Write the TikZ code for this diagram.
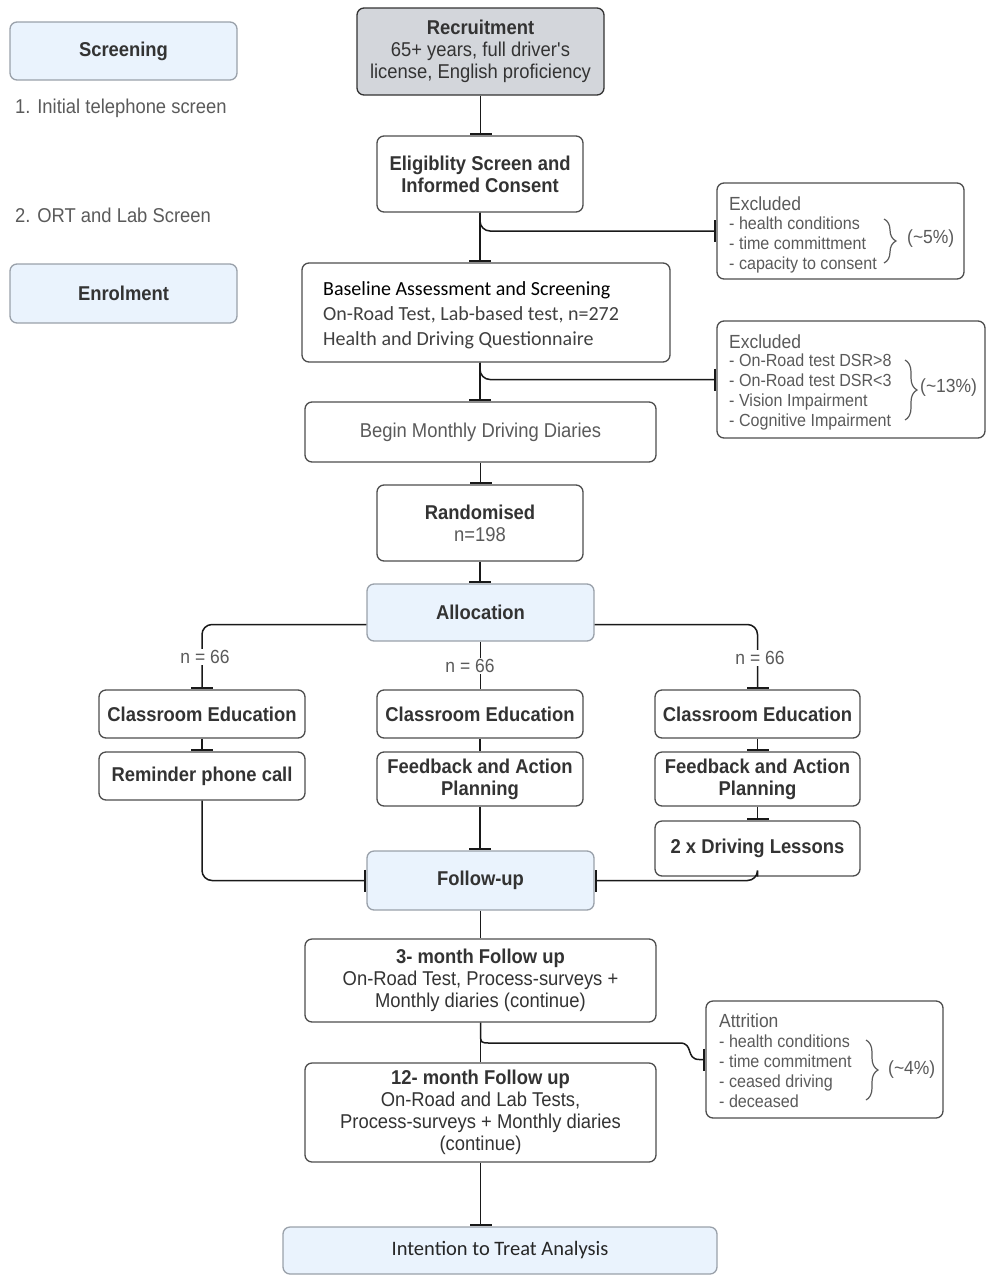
\documentclass[tikz,border=0pt]{standalone}
\usepackage{fontspec}
\setmainfont[FakeStretch=0.92]{Liberation Sans}
\newfontfamily\calfont{Carlito}
\usetikzlibrary{arrows.meta,decorations.pathreplacing,calc}
\definecolor{txt}{HTML}{333333}
\definecolor{gtxt}{HTML}{5A5A5A}
\definecolor{bord}{HTML}{4D4D4D}
\definecolor{bluefill}{HTML}{EAF3FD}
\definecolor{blueborder}{HTML}{9AA1AA}
\definecolor{grayfill}{HTML}{D3D6DB}
\tikzset{
  box/.style={draw=bord, line width=1.3pt, rounded corners=7pt, fill=white, align=center, inner sep=0pt, text=txt},
  bluebox/.style={box, draw=blueborder, fill=bluefill},
  conn/.style={draw=black!90, line width=1.5pt},
  tee/.style={conn, -{Bar[width=22pt,line width=2.4pt]}},
  bf/.style={font=\fontsize{20}{22}\selectfont\bfseries},
  rg/.style={font=\fontsize{20}{22}\selectfont},
  lst/.style={font=\fontsize{17.5}{20}\selectfont, text=gtxt, align=left, inner sep=0pt},
  lbl/.style={font=\fontsize{19}{22}\selectfont, text=gtxt, inner sep=1pt},
  brc/.style={draw=gtxt, line width=1.2pt, decorate, decoration={brace, amplitude=12pt}},
}
\begin{document}
\begin{tikzpicture}[x=1pt,y=-1pt]
\useasboundingbox (0,0) rectangle (989,1280);
% left column
\node[bluebox, bf, minimum width=227pt, minimum height=58pt] (scr) at (123.5,51) {Screening};
\node[lbl, anchor=west, font=\fontsize{20}{22}\selectfont] (s1) at (14,108) {1. Initial telephone screen};
\node[lbl, anchor=west, font=\fontsize{20}{22}\selectfont] (s2) at (14,215) {2. ORT and Lab Screen};
\node[bluebox, bf, minimum width=227pt, minimum height=59pt] (enr) at (123.5,293.5) {Enrolment};
% main column
\node[box, fill=grayfill, draw=black!80, rg, minimum width=247pt, minimum height=87pt] (rec) at (480.5,51.5)
  {\textbf{Recruitment}\\65+ years, full driver\textquotesingle s\\license, English proficiency};
\node[box, bf, minimum width=206pt, minimum height=76pt] (elig) at (480,174) {Eligiblity Screen and\\Informed Consent};
\node[box, minimum width=368pt, minimum height=99pt] (base) at (486,312.5) {};
\node[anchor=west, align=left, inner sep=0pt, font=\calfont\fontsize{20}{25}\selectfont, text=black!75] (baset) at (323,315)
  {\textcolor{black}{Baseline Assessment and Screening}\\On-Road Test, Lab-based test, n=272\\Health and Driving Questionnaire};
\node[box, rg, text=gtxt, minimum width=351pt, minimum height=60pt] (begin) at (480.5,432) {Begin Monthly Driving Diaries};
\node[box, rg, minimum width=206pt, minimum height=76pt] (rand) at (480,523) {\textbf{Randomised}\\\textcolor{gtxt}{n=198}};
\node[bluebox, bf, minimum width=227pt, minimum height=57pt] (alloc) at (480.5,612.5) {Allocation};
% arms
\node[box, bf, minimum width=206pt, minimum height=48pt] (cl) at (202,714) {Classroom Education};
\node[box, bf, minimum width=206pt, minimum height=48pt] (cm) at (480,714) {Classroom Education};
\node[box, bf, minimum width=205pt, minimum height=48pt] (cr) at (757.5,714) {Classroom Education};
\node[box, bf, minimum width=206pt, minimum height=48pt] (rem) at (202,776) {Reminder phone call};
\node[box, bf, minimum width=206pt, minimum height=54pt] (fm) at (480,779) {Feedback and Action\\Planning};
\node[box, bf, minimum width=205pt, minimum height=54pt] (fr) at (757.5,779) {Feedback and Action\\Planning};
\node[box, bf, minimum width=205pt, minimum height=55pt] (drv) at (757.5,848.5) {2 x Driving Lessons};
\node[bluebox, bf, minimum width=227pt, minimum height=59pt] (fol) at (480.5,880.5) {Follow-up};
\node[box, rg, minimum width=351pt, minimum height=83pt] (m3) at (480.5,980.5)
  {\textbf{3- month Follow up}\\On-Road Test, Process-surveys +\\Monthly diaries (continue)};
\node[box, rg, minimum width=351pt, minimum height=99pt] (m12) at (480.5,1112.5)
  {\textbf{12- month Follow up}\\On-Road and Lab Tests,\\Process-surveys + Monthly diaries\\(continue)};
\node[bluebox, font=\calfont\fontsize{20.5}{22}\selectfont, text=black!85, minimum width=434pt, minimum height=47pt] (itt) at (500,1250.5) {Intention to Treat Analysis};
% excluded 1
\node[box, minimum width=247pt, minimum height=96pt] (ex1) at (840.5,231) {};
\node[lbl, anchor=west, inner sep=0pt] (ex1t) at (729,204) {Excluded};
\node[lst, anchor=west] (ex1l) at (729,245) {- health conditions\\- time committment\\- capacity to consent};
\draw[brc] (884,219) -- (884,263);
\node[lbl, anchor=west, inner sep=0pt] (ex1p) at (907,239) {(\textasciitilde5\%)};
% excluded 2
\node[box, minimum width=268pt, minimum height=117pt] (ex2) at (851,379.5) {};
\node[lbl, anchor=west, inner sep=0pt] (ex2t) at (729,342) {Excluded};
\node[lst, anchor=west] (ex2l) at (729,392) {- On-Road test DSR>8\\- On-Road test DSR<3\\- Vision Impairment\\- Cognitive Impairment};
\draw[brc] (905,360) -- (905,420);
\node[lbl, anchor=west, inner sep=0pt] (ex2p) at (920,388) {(\textasciitilde13\%)};
% attrition
\node[box, minimum width=237pt, minimum height=117pt] (attr) at (824.5,1059.5) {};
\node[lbl, anchor=west, inner sep=0pt] (attrt) at (719,1021) {Attrition};
\node[lst, anchor=west] (attrl) at (719,1071.5) {- health conditions\\- time commitment\\- ceased driving\\- deceased};
\draw[brc] (866,1040) -- (866,1100);
\node[lbl, anchor=west, inner sep=0pt] (attrp) at (888,1070) {(\textasciitilde4\%)};
% connectors
\draw[tee] (rec.south) -- (rec.south |- elig.north);
\draw[tee] (elig.south) -- (elig.south |- base.north);
\draw[tee, rounded corners=10pt] (elig.south) |- (ex1.west);
\draw[tee] (elig.south |- base.south) -- (elig.south |- begin.north);
\draw[tee, rounded corners=10pt] (elig.south |- base.south) |- (ex2.west);
\draw[tee] (begin.south) -- (begin.south |- rand.north);
\draw[tee] (rand.south) -- (rand.south |- alloc.north);
\draw[tee, rounded corners=10pt] ([yshift=-12pt]alloc.west) -| (cl.north);
\draw[tee, rounded corners=10pt] ([yshift=-12pt]alloc.east) -| (cr.north);
\draw[conn] (alloc.south) -- (alloc.south |- cm.north);
\node[lbl, fill=white] (n1) at (205,657) {n = 66};
\node[lbl, fill=white] (n2) at (470,666) {n = 66};
\node[lbl, fill=white] (n3) at (760,658) {n = 66};
\draw[tee] (cl.south) -- (rem.north);
\draw[conn] (cm.south) -- (fm.north);
\draw[tee] (fm.south) -- (fm.south |- fol.north);
\draw[tee] (cr.south) -- (fr.north);
\draw[tee] (fr.south) -- (drv.north);
\draw[tee, rounded corners=10pt] (rem.south) |- (fol.west);
\draw[tee, rounded corners=10pt] (drv.south) |- (fol.east);
\draw[conn] (fol.south) -- (fol.south |- m3.north);
\draw[conn] (m3.south) -- (m3.south |- m12.north);
\coordinate (a1) at (m3.south |- 0,1033);
\coordinate (a2) at (m3.south |- 0,1043);
\coordinate (a3) at (680,1043);
\coordinate (a4) at ($(attr.west)+(-6,0)$);
\draw[tee] (m3.south) -- (a1) .. controls (a2) .. ($(a2)+(10,0)$) -- (a3)
  .. controls ($(a3)+(14,0)$) and ($(a4)+(-14,0)$) .. (a4) -- (attr.west);
\draw[tee] (m12.south) -- (m12.south |- itt.north);
\end{tikzpicture}
\end{document}
